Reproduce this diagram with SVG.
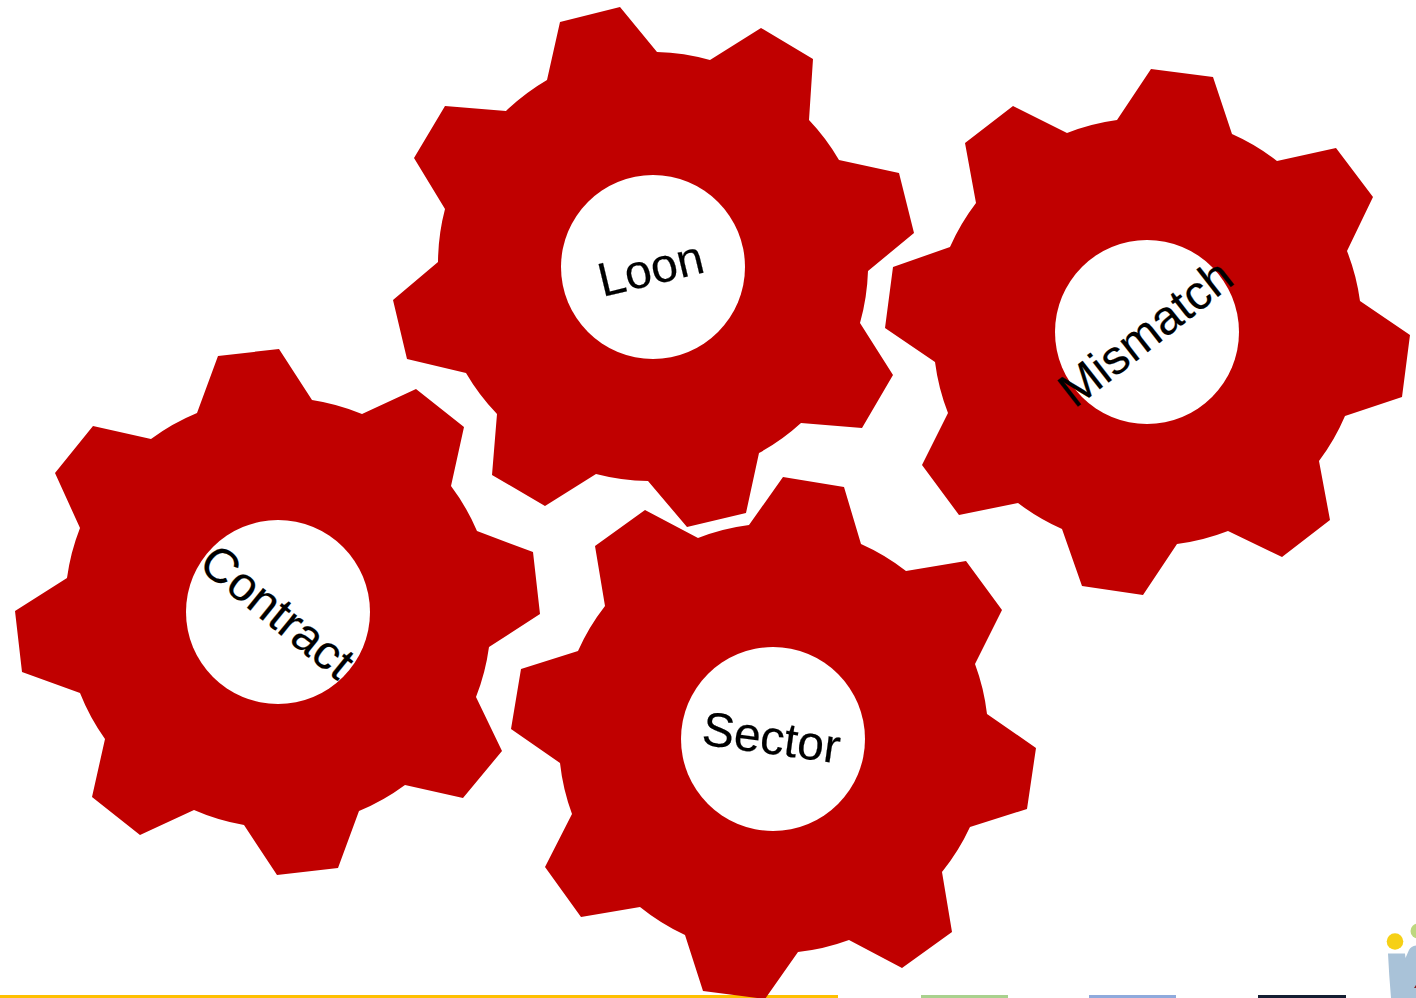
<svg xmlns="http://www.w3.org/2000/svg" width="1416" height="998" viewBox="0 0 1416 998">
<style>
.gear{fill:#c00000}
.hole{fill:#fff}
.lbl{font-family:"Liberation Sans",Arial,sans-serif;font-size:48px;fill:#000;text-anchor:middle;stroke:#000;stroke-width:0.2px}
</style>
<rect width="1416" height="998" fill="#fff"/>
<g id="bars">
<rect x="0" y="995" width="838" height="3" fill="#ffc000"/>
<rect x="921" y="995" width="87" height="3" fill="#a9d18e"/>
<rect x="1089" y="995" width="87" height="3" fill="#8faadc"/>
<rect x="1258" y="995" width="88" height="3" fill="#141e32"/>
</g>
<g id="logo">
<circle cx="1395" cy="941.5" r="8.3" fill="#f6d015"/>
<circle cx="1418" cy="931" r="7.5" fill="#bcd77f"/>
<path d="M1388 953.5H1405L1405.5 958L1409 950Q1411 946 1416 945.5V998H1391Q1389 975 1388 953.5Z" fill="#a9c2d8"/>
<path d="M1416 985V988H1414Z" fill="#8b1a1a"/>
</g>
<g id="sector">
<path class="gear" d="M783 477L844 487L861 544A215 215 0 0 1 906 571L966 561L1002 610L975 664A215 215 0 0 1 987 714L1036 748L1027 809L970 827A215 215 0 0 1 942 872L952 932L902 968L849 940A215 215 0 0 1 798 952L765 999L703 991L685 935A215 215 0 0 1 640 907L581 917L545 867L572 814A215 215 0 0 1 560 763L511 729L521 669L578 651A215 215 0 0 1 605 606L595 546L645 510L698 538A215 215 0 0 1 749 525Z"/>
<circle class="hole" cx="773" cy="739" r="92"/>
<text class="lbl" transform="translate(771.5 737) rotate(8)" y="17">Sector</text>
</g>
<g id="contract">
<path class="gear" d="M218 356L279 349L312 400A215 215 0 0 1 362 414L416 389L464 427L451 486A215 215 0 0 1 477 531L533 552L540 614L489 647A215 215 0 0 1 476 697L502 751L463 798L405 785A215 215 0 0 1 359 811L338 868L277 875L244 825A215 215 0 0 1 194 810L140 835L92 797L105 739A215 215 0 0 1 80 693L22 672L15 611L67 578A215 215 0 0 1 80 528L55 473L93 426L151 439A215 215 0 0 1 197 413Z"/>
<circle class="hole" cx="278" cy="612" r="92"/>
<text class="lbl" transform="translate(278 611) rotate(39)" y="17">Contract</text>
</g>
<g id="loon">
<path class="gear" d="M560 22L620 7L657 52A215 215 0 0 1 710 60L761 28L813 59L809 120A215 215 0 0 1 839 160L899 173L914 233L868 271A215 215 0 0 1 860 323L893 375L862 428L801 423A215 215 0 0 1 759 453L746 513L687 527L648 481A215 215 0 0 1 596 474L545 506L492 475L497 414A215 215 0 0 1 466 373L407 359L393 300L438 262A215 215 0 0 1 445 209L414 158L445 106L506 111A215 215 0 0 1 547 80Z"/>
<circle class="hole" cx="653" cy="267" r="92"/>
<text class="lbl" transform="translate(650.5 268) rotate(-13.5)" y="17">Loon</text>
</g>
<g id="mismatch">
<path class="gear" d="M1151 69L1213 77L1232 134A215 215 0 0 1 1277 161L1336 148L1373 197L1347 251A215 215 0 0 1 1360 301L1410 335L1402 397L1345 416A215 215 0 0 1 1319 461L1330 520L1282 557L1228 531A215 215 0 0 1 1177 544L1143 595L1082 586L1062 529A215 215 0 0 1 1018 503L959 515L922 465L948 413A215 215 0 0 1 935 362L885 328L893 267L950 247A215 215 0 0 1 976 203L965 143L1013 106L1067 133A215 215 0 0 1 1117 120Z"/>
<circle class="hole" cx="1147" cy="332" r="92"/>
<text class="lbl" transform="translate(1145 332.5) rotate(-38)" y="17">Mismatch</text>
</g>
</svg>
